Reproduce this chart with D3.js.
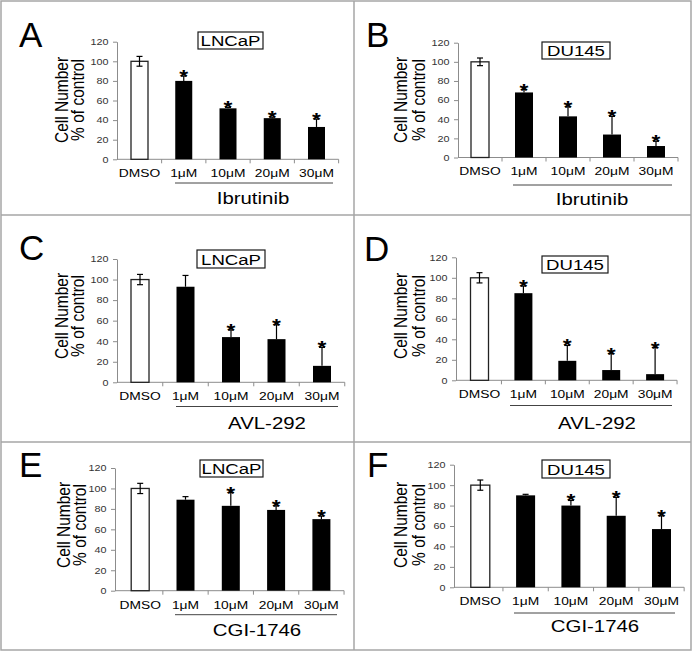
<!DOCTYPE html>
<html><head><meta charset="utf-8">
<script src="https://cdn.jsdelivr.net/npm/d3@7"></script>
<style>body{margin:0;background:#fff}svg{display:block}text{font-family:"Liberation Sans",Arial,sans-serif}</style>
</head><body>
<svg id="c" width="694" height="653"></svg>
<script>
// ---------- data ----------
const categories = ["DMSO","1μM","10μM","20μM","30μM"];
const yTicks = [0,20,40,60,80,100,120];
const panelLetters = ["A","B","C","D","E","F"];
const cellLines = ["LNCaP","DU145","LNCaP","DU145","LNCaP","DU145"];
const drugs = ["Ibrutinib","Ibrutinib","AVL-292","AVL-292","CGI-1746","CGI-1746"];
const yTitle1 = "Cell Number";
const yTitle2 = "% of control";

const valuesA = [100,80,52,42,33];
const errorsA = [5,5,1,1,8];
const signifA = [false,true,true,true,true];
const valuesB = [100,68,43,24,12];
const errorsB = [4,3,10,19,5];
const signifB = [false,true,true,true,true];
const valuesC = [100,93,44,42,16];
const errorsC = [5,11,7,14,18];
const signifC = [false,false,true,true,true];
const valuesD = [100,85,19,10,6];
const errorsD = [5,7,15,16,26];
const signifD = [false,true,true,true,true];
const valuesE = [100,89,83,79,70];
const errorsE = [5,3,13,4,3];
const signifE = [false,false,true,true,true];
const valuesF = [100,90,80,70,57];
const errorsF = [5,1,5,18,13];
const signifF = [false,false,true,true,true];

const allValues = [valuesA,valuesB,valuesC,valuesD,valuesE,valuesF];
const allErrors = [errorsA,errorsB,errorsC,errorsD,errorsE,errorsF];
const allSignif = [signifA,signifB,signifC,signifD,signifE,signifF];

// ---------- layout ----------
const layouts = [
 {axisX:117, c0:139.5, step:44.25, y0:159.3, y120:41.7, barW:17, lx:19, ly:47, bx:198, by:32, bw:65, bh:17, t1x:68, t2x:84, tcy:100, ulY:183, ul0:175, ul1:333, dx:253, dy:204},
 {axisX:458, c0:480, step:44, y0:157.5, y120:42.7, barW:18, lx:366, ly:47, bx:542, by:42, bw:68, bh:17, t1x:407, t2x:425, tcy:100, ulY:185, ul0:513, ul1:672, dx:592, dy:205},
 {axisX:117, c0:140, step:45.5, y0:382.3, y120:259, barW:18, lx:19, ly:260, bx:197, by:250, bw:68, bh:18, t1x:68, t2x:84, tcy:316, ulY:406.5, ul0:176, ul1:338, dx:267, dy:429},
 {axisX:456, c0:479.5, step:43.9, y0:380.3, y120:257.3, barW:18, lx:364, ly:261, bx:542, by:256, bw:66, bh:17, t1x:407, t2x:425, tcy:316, ulY:405.5, ul0:510, ul1:672, dx:597, dy:429},
 {axisX:115, c0:140.2, step:45.3, y0:590.7, y120:468, barW:18, lx:19, ly:477, bx:200, by:460, bw:63, bh:17, t1x:70, t2x:86, tcy:525, ulY:614.7, ul0:175, ul1:337, dx:257, dy:636},
 {axisX:454, c0:480.3, step:45.3, y0:587.3, y120:464.7, barW:19, lx:367, ly:477, bx:542, by:460, bw:68, bh:18, t1x:407, t2x:425, tcy:525, ulY:613, ul0:514, ul1:675, dx:595, dy:632}
];
const S = 1.2; // horizontal stretch of the figure text

const svg = d3.select("#c");

// frame
const frame = svg.append("g").attr("fill","none").attr("stroke","#a6a6a6").attr("stroke-width",1.5);
frame.append("rect").attr("x",1).attr("y",1).attr("width",690).attr("height",649);
frame.append("line").attr("x1",354).attr("x2",354).attr("y1",1).attr("y2",650);
frame.append("line").attr("x1",1).attr("x2",691).attr("y1",215).attr("y2",215);
frame.append("line").attr("x1",1).attr("x2",691).attr("y1",442).attr("y2",442);

function stext(g, x, y, txt, size, anchor) {
  return g.append("text")
    .attr("transform", `translate(${x},${y}) scale(${S},1)`)
    .attr("text-anchor", anchor || "middle")
    .attr("font-size", size)
    .attr("fill", "#000")
    .text(txt);
}

layouts.forEach((L, i) => {
  const g = svg.append("g");
  const vals = allValues[i], errs = allErrors[i], sig = allSignif[i];
  const r0 = L.c0 - L.step/2, r1 = r0 + 5*L.step;
  const p = 1 - L.barW/L.step;
  const x = d3.scaleBand().domain(categories).range([r0, r1]).paddingInner(p).paddingOuter(p/2);
  const y = d3.scaleLinear().domain([0,120]).range([L.y0, L.y120]);

  // panel letter
  g.append("text").attr("x", L.lx).attr("y", L.ly).attr("font-size", 35).attr("fill","#000").text(panelLetters[i]);

  // cell line box
  g.append("rect").attr("x", L.bx).attr("y", L.by).attr("width", L.bw).attr("height", L.bh)
    .attr("fill","none").attr("stroke","#1a1a1a").attr("stroke-width",1.2);
  stext(g, L.bx + L.bw/2, L.by + L.bh - 3, cellLines[i], 15.5, "middle");

  // y axis
  const ya = g.append("g").attr("transform", `translate(${L.axisX},0)`)
    .call(d3.axisLeft(y).tickValues(yTicks).tickSize(4).tickSizeOuter(0).tickPadding(3));
  ya.select(".domain").attr("stroke","#8c8c8c");
  ya.selectAll(".tick line").attr("stroke","#8c8c8c");
  ya.selectAll(".tick text").attr("font-size", 9).attr("fill","#333")
    .attr("font-family","Liberation Sans, Arial, sans-serif")
    .attr("transform", `scale(${S},1)`);

  // x axis line + boundary ticks
  g.append("line").attr("x1", L.axisX).attr("x2", r1).attr("y1", L.y0).attr("y2", L.y0)
    .attr("stroke","#8c8c8c");
  g.selectAll(".bt").data(d3.range(1,6)).join("line")
    .attr("x1", k => r0 + k*x.step()).attr("x2", k => r0 + k*x.step())
    .attr("y1", L.y0).attr("y2", L.y0 + 4).attr("stroke","#8c8c8c");

  // x labels via axis
  const xa = g.append("g").attr("transform", `translate(0,${L.y0})`)
    .call(d3.axisBottom(x).tickSize(0).tickPadding(10));
  xa.select(".domain").remove();
  xa.selectAll(".tick text").attr("font-size", 11.5).attr("fill","#000")
    .attr("font-family","Liberation Sans, Arial, sans-serif")
    .attr("dy", null).attr("y", 18).attr("transform", `scale(${S},1)`);

  // bars
  g.selectAll(".bar").data(categories).join("rect")
    .attr("x", d => x(d)).attr("width", x.bandwidth())
    .attr("y", (d,j) => y(vals[j])).attr("height", (d,j) => L.y0 - y(vals[j]))
    .attr("fill", (d,j) => j === 0 ? "#fff" : "#000")
    .attr("stroke", (d,j) => j === 0 ? "#222" : "none")
    .attr("stroke-width", 1.3);

  // error bars (control: both directions; treatments: upper only)
  const eb = g.append("g").attr("stroke","#000").attr("stroke-width",1.2);
  categories.forEach((c, j) => {
    const cx = x(c) + x.bandwidth()/2;
    const top = y(vals[j] + errs[j]);
    const bot = j === 0 ? y(vals[j] - errs[j]) : y(vals[j]);
    eb.append("line").attr("x1",cx).attr("x2",cx).attr("y1",top).attr("y2",bot);
    eb.append("line").attr("x1",cx-3).attr("x2",cx+3).attr("y1",top).attr("y2",top);
    if (j === 0) eb.append("line").attr("x1",cx-3).attr("x2",cx+3).attr("y1",bot).attr("y2",bot);
    if (sig[j]) {
      stext(g, cx, top + 7, "*", 19, "middle").attr("font-weight","bold");
    }
  });

  // y titles
  g.append("text").attr("transform", `translate(${L.t1x},${L.tcy}) scale(${S},1) rotate(-90)`)
    .attr("text-anchor","middle").attr("font-size",15.5).attr("fill","#000").text(yTitle1);
  g.append("text").attr("transform", `translate(${L.t2x},${L.tcy}) scale(${S},1) rotate(-90)`)
    .attr("text-anchor","middle").attr("font-size",15.5).attr("fill","#000").text(yTitle2);

  // drug underline and label
  g.append("line").attr("x1", L.ul0).attr("x2", L.ul1).attr("y1", L.ulY).attr("y2", L.ulY)
    .attr("stroke","#444").attr("stroke-width",1);
  stext(g, L.dx, L.dy, drugs[i], 17, "middle");
});
</script>
</body></html>
